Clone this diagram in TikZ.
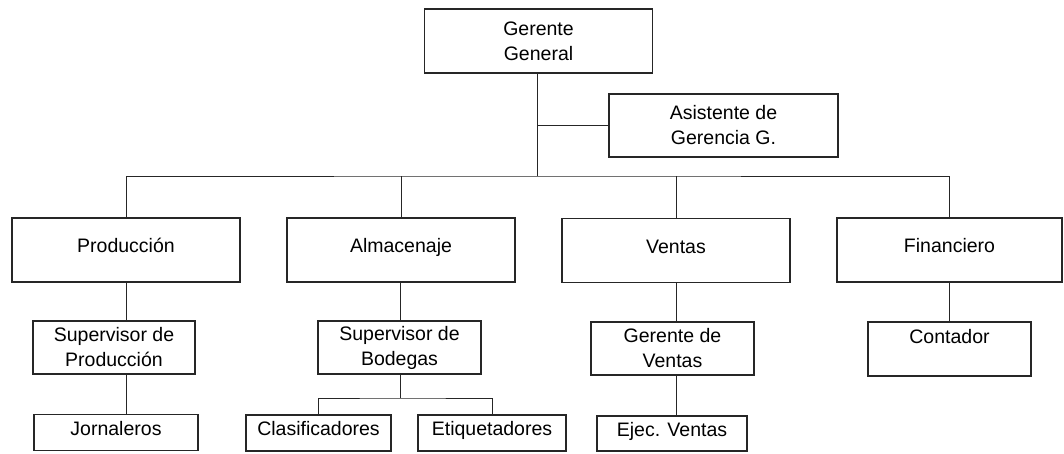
\documentclass[tikz,border=0pt]{standalone}
\usepackage{fontspec}
\setmainfont{Liberation Sans}
\usepackage{tikz}
\usetikzlibrary{positioning}

\begin{document}
\begin{tikzpicture}[x=1pt, y=-1pt,
    box/.style={draw=black!85, line width=1.1pt, inner sep=0pt, align=center,
      font=\fontsize{19.5}{25}\selectfont},
    onerow/.style={text height=15pt, text depth=10pt},
    bigbox/.style={box, minimum width=228pt, minimum height=64pt},
    midbox/.style={box, minimum width=163pt, minimum height=53pt},
    lowbox/.style={box, onerow, minimum width=148pt, minimum height=36pt},
    link/.style={draw=black!85, line width=1pt}]
        \useasboundingbox (0,0) rectangle (1064,453);
        % Top
        \node[bigbox] (gg) at (538.5,41) {Gerente\\General};
        \node[bigbox, minimum width=229pt, minimum height=63pt] (asis) at (723.5,125.5) {Asistente de\\Gerencia G.};
        % Departments
        \node[bigbox, onerow] (prod) at (126,250) {Producción};
        \node[bigbox, onerow] (alm) at (401,250) {Almacenaje};
        \node[bigbox, onerow] (ven) at (676,250.5) {Ventas};
        \node[bigbox, onerow, minimum width=225pt] (fin) at (949.5,250) {Financiero};
        % Second level
        \node[midbox, minimum width=162pt] (supprod) at (114,347.5) {Supervisor de\\Producción};
        \node[midbox] (supbod) at (399.5,347.5) {Supervisor de\\Bodegas};
        \node[midbox] (gerv) at (672.5,348.5) {Gerente de\\Ventas};
        \node[midbox, minimum height=54pt] (cont) at (949.5,349) {Contador\\\mbox{}};
        % Third level
        \node[lowbox, minimum width=164pt] (jor) at (116,432.5) {Jornaleros};
        \node[lowbox, minimum width=145pt] (clas) at (318.5,433) {Clasificadores};
        \node[lowbox] (etiq) at (492,433) {Etiquetadores};
        \node[lowbox, minimum width=150pt, minimum height=35pt] (ejec) at (672,433.5) {Ejec. Ventas};
        % Lines
        \coordinate (bus) at (537,176);
        \coordinate (join) at (bus |- asis.west);
        \coordinate (split) at (400,398);
        \draw[link] (gg.south -| bus) -- (bus);
        \draw[link] (join) -- (asis.west);
        \draw[link] (prod.north) |- (bus) -| (fin.north);
        \draw[link] (alm.north) -- (alm.north |- bus);
        \draw[link] (ven.north) -- (ven.north |- bus);
        \draw[link] (prod.south) -- (prod.south |- supprod.north);
        \draw[link] (prod.south |- supprod.south) -- (prod.south |- jor.north);
        \draw[link] (alm.south -| split) -- (supbod.north -| split);
        \draw[link] (supbod.south -| split) -- (split);
        \draw[link] (clas.north) |- (split) -| (etiq.north);
        \draw[link] (ven.south) -- (ven.south |- gerv.north);
        \draw[link] (ven.south |- gerv.south) -- (ven.south |- ejec.north);
        \draw[link] (fin.south) -- (fin.south |- cont.north);
    \end{tikzpicture}
\end{document}
